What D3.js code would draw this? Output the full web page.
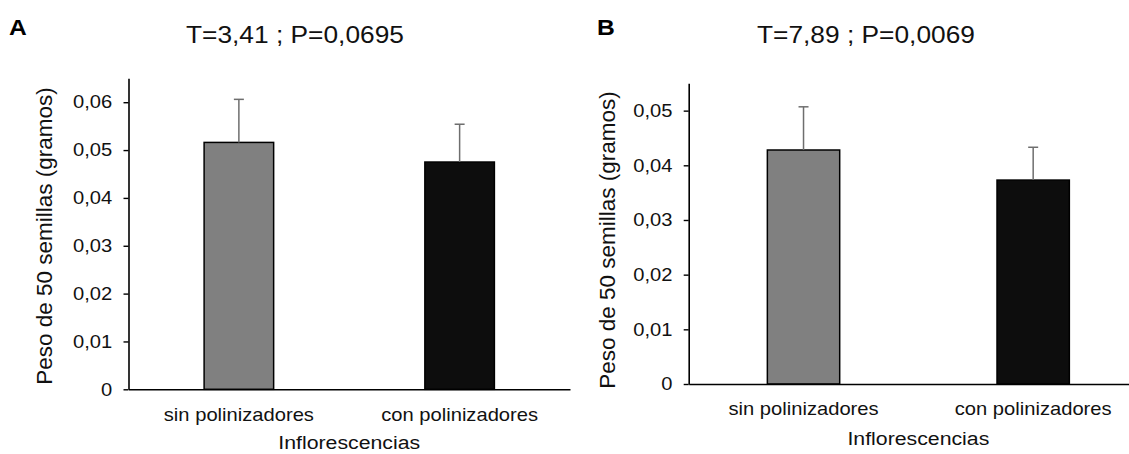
<!DOCTYPE html>
<html>
<head>
<meta charset="utf-8">
<script src="https://cdn.jsdelivr.net/npm/d3@7"></script>
<style>
  body { margin: 0; background: #fff; }
  svg { font-family: "Liberation Sans", Arial, sans-serif; }
</style>
</head>
<body>
<div id="my_dataviz"></div>
<script>
// data
const categories = ["sin polinizadores", "con polinizadores"];
const barColors = ["#808080", "#0d0d0d"];

const meansA = [0.0516, 0.0475];
const errorsA = [0.0090, 0.0079];
const ticksA = [0, 0.01, 0.02, 0.03, 0.04, 0.05, 0.06];

const meansB = [0.0428, 0.0373];
const errorsB = [0.0079, 0.0060];
const ticksB = [0, 0.01, 0.02, 0.03, 0.04, 0.05];

const letters = ["A", "B"];
const titles = ["T=3,41 ; P=0,0695", "T=7,89 ; P=0,0069"];
const xTitle = "Inflorescencias";
const yTitle = "Peso de 50 semillas (gramos)";

const W = 1129, H = 454;
// the original picture is a bit wider than tall, text looks stretched
const SX = 1.12;

const svg = d3.select("#my_dataviz")
  .append("svg")
  .attr("width", W)
  .attr("height", H);

function stretchedText(g, x, y, size) {
  return g.append("text")
    .attr("transform", `translate(${x},${y}) scale(${SX},1)`)
    .attr("fill", "#111")
    .style("font-size", size + "px");
}

// one panel = one bar chart
function drawPanel(opt) {
  const g = svg.append("g");

  const x = d3.scaleBand()
    .domain(categories)
    .range([opt.left, opt.right])
    .paddingInner(0.685)
    .paddingOuter(0.3425);

  const y = d3.scaleLinear()
    .domain([0, opt.yMax])
    .range([opt.bottom, opt.top]);

  const fmt = d => d === 0 ? "0" : d.toFixed(2).replace(".", ",");

  // y axis
  const yAxis = g.append("g")
    .attr("transform", `translate(${opt.left},0)`)
    .call(d3.axisLeft(y).tickValues(opt.ticks).tickFormat(fmt).tickSize(5).tickSizeOuter(0).tickPadding(9.5));
  yAxis.select(".domain").attr("stroke", "#000").attr("stroke-width", 1.6);
  yAxis.selectAll(".tick line").attr("stroke", "#000").attr("stroke-width", 1.4);
  yAxis.selectAll(".tick text")
    .attr("fill", "#111")
    .attr("transform", `scale(${SX},1)`)
    .style("font-size", "18px")
    .style("font-family", "Liberation Sans, Arial, sans-serif");

  // bars
  g.selectAll("rect.bar")
    .data(opt.means)
    .join("rect")
    .attr("class", "bar")
    .attr("x", (d, i) => x(categories[i]))
    .attr("y", d => y(d))
    .attr("width", x.bandwidth())
    .attr("height", d => y(0) - y(d))
    .attr("fill", (d, i) => barColors[i])
    .attr("stroke", "#000")
    .attr("stroke-width", 1.5);

  // error bars (upper only)
  const err = g.selectAll("g.err")
    .data(opt.means)
    .join("g")
    .attr("class", "err");
  err.append("line")
    .attr("x1", (d, i) => x(categories[i]) + x.bandwidth() / 2)
    .attr("x2", (d, i) => x(categories[i]) + x.bandwidth() / 2)
    .attr("y1", d => y(d))
    .attr("y2", (d, i) => y(d + opt.errors[i]))
    .attr("stroke", "#6e6e6e")
    .attr("stroke-width", 1.5);
  err.append("line")
    .attr("x1", (d, i) => x(categories[i]) + x.bandwidth() / 2 - 5)
    .attr("x2", (d, i) => x(categories[i]) + x.bandwidth() / 2 + 5)
    .attr("y1", (d, i) => y(d + opt.errors[i]))
    .attr("y2", (d, i) => y(d + opt.errors[i]))
    .attr("stroke", "#6e6e6e")
    .attr("stroke-width", 1.5);

  // x axis (no ticks)
  const xAxis = g.append("g")
    .attr("transform", `translate(0,${opt.bottom})`)
    .call(d3.axisBottom(x).tickSize(0).tickSizeOuter(0).tickPadding(18.5));
  xAxis.select(".domain").attr("stroke", "#000").attr("stroke-width", 1.6);
  xAxis.selectAll(".tick text")
    .attr("fill", "#111")
    .attr("transform", `scale(${SX},1)`)
    .style("font-size", "18px")
    .style("font-family", "Liberation Sans, Arial, sans-serif");

  // axis titles
  stretchedText(g, (opt.left + opt.right) / 2, opt.xTitleY, 19)
    .attr("text-anchor", "middle")
    .text(xTitle);

  g.append("text")
    .attr("transform", `translate(${opt.yTitleX},${opt.yTitleMid}) rotate(-90)`)
    .attr("text-anchor", "middle")
    .attr("fill", "#111")
    .style("font-size", "22.5px")
    .text(yTitle);

  // panel letter and test result
  stretchedText(g, opt.letterX, 35, 22)
    .attr("fill", "#000")
    .style("font-weight", "bold")
    .text(opt.letter);

  stretchedText(g, opt.titleX, 43, 23.5)
    .text(opt.title);
}

drawPanel({
  left: 128.5, right: 570, top: 78.3, bottom: 389.3, yMax: 0.065,
  means: meansA, errors: errorsA, ticks: ticksA,
  letter: letters[0], letterX: 9, title: titles[0], titleX: 186,
  xTitleY: 449, yTitleX: 52, yTitleMid: 236
});

drawPanel({
  left: 688.7, right: 1148, top: 83.3, bottom: 384, yMax: 0.055,
  means: meansB, errors: errorsB, ticks: ticksB,
  letter: letters[1], letterX: 597, title: titles[1], titleX: 757,
  xTitleY: 445, yTitleX: 615, yTitleMid: 240
});
</script>
</body>
</html>
